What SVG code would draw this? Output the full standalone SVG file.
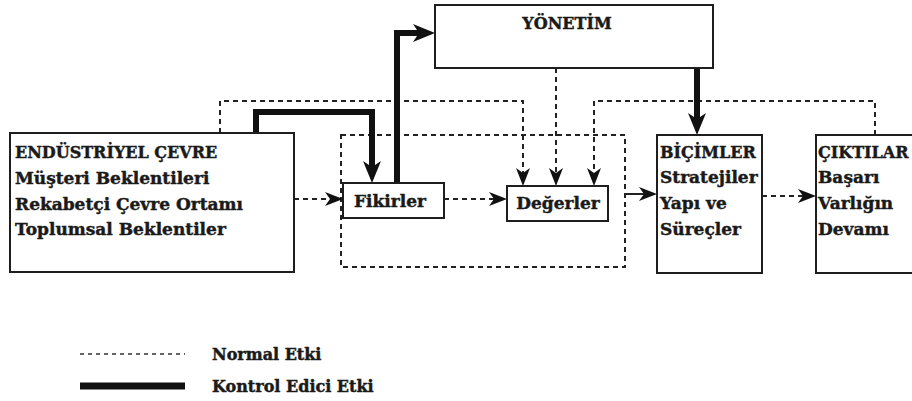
<svg xmlns="http://www.w3.org/2000/svg" width="912" height="401" viewBox="0 0 912 401">
  <style>
    .box { fill: #ffffff; stroke: #1e1e1e; stroke-width: 2; }
    .lbl { font-family: "DejaVu Serif", "Liberation Serif", serif; font-weight: bold; font-size: 16px; fill: #1a1a1a; stroke: #1a1a1a; stroke-width: 0.45; }
    .big { font-size: 17px; }
    .dash { fill: none; stroke: #222; stroke-width: 2; stroke-dasharray: 5 4; }
    .solid { fill: none; stroke: #222; stroke-width: 2; }
    .thick { fill: none; stroke: #111; stroke-width: 6; stroke-linejoin: miter; }
  </style>
  <defs>
    <marker id="arrThick" markerUnits="userSpaceOnUse" markerWidth="22" markerHeight="18" refX="9" refY="9" orient="auto">
      <path d="M0,0 L22,9 L0,18 L6,9 Z" fill="#111"/>
    </marker>
    <marker id="arrThin" markerUnits="userSpaceOnUse" markerWidth="18" markerHeight="14" refX="12" refY="7" orient="auto">
      <path d="M0,0 L18,7 L0,14 L5,7 Z" fill="#111"/>
    </marker>
  </defs>
  <rect width="912" height="401" fill="#ffffff"/>

  <g id="group-frame">
    <rect x="341" y="135" width="284" height="132" class="dash" fill="none"/>
  </g>

  <g id="connectors">
    <path class="dash" d="M220,133 V101 H523 V180" marker-end="url(#arrThin)"/>
    <path class="dash" d="M875,135 V101 H594 V180" marker-end="url(#arrThin)"/>
    <path class="dash" d="M556,68 V180" marker-end="url(#arrThin)"/>
    <path class="dash" d="M294,199 H337" marker-end="url(#arrThin)"/>
    <path class="dash" d="M444,199 H501" marker-end="url(#arrThin)"/>
    <path class="solid" d="M625,194 H651" marker-end="url(#arrThin)"/>
    <path class="dash" d="M762,196 H810" marker-end="url(#arrThin)"/>
    <path class="thick" d="M256,133 V112 H372 V170" marker-end="url(#arrThick)"/>
    <path class="thick" d="M397,183 V33 H422" marker-end="url(#arrThick)"/>
    <path class="thick" d="M697,68 V122" marker-end="url(#arrThick)"/>
  </g>

  <g id="node-endustriyel">
    <rect x="10" y="133" width="284" height="139" class="box"/>
    <text class="lbl" x="15" y="158">ENDÜSTRİYEL ÇEVRE</text>
    <text class="lbl big" x="15" y="184">Müşteri Beklentileri</text>
    <text class="lbl big" x="15" y="210">Rekabetçi Çevre Ortamı</text>
    <text class="lbl big" x="15" y="235">Toplumsal Beklentiler</text>
  </g>

  <g id="node-yonetim">
    <rect x="435" y="5" width="278" height="63" class="box"/>
    <text class="lbl" x="567" y="29" text-anchor="middle">YÖNETİM</text>
  </g>

  <g id="node-fikirler">
    <rect x="343" y="183" width="101" height="35" class="box"/>
    <text class="lbl big" x="390" y="207" text-anchor="middle">Fikirler</text>
  </g>

  <g id="node-degerler">
    <rect x="507" y="186" width="101" height="35" class="box"/>
    <text class="lbl big" x="558" y="209" text-anchor="middle">Değerler</text>
  </g>

  <g id="node-bicimler">
    <rect x="657" y="135" width="105" height="138" class="box"/>
    <text class="lbl" x="660" y="158">BİÇİMLER</text>
    <text class="lbl big" x="660" y="183">Stratejiler</text>
    <text class="lbl big" x="660" y="209">Yapı ve</text>
    <text class="lbl big" x="660" y="235">Süreçler</text>
  </g>

  <g id="node-ciktilar">
    <rect x="816" y="135" width="110" height="138" class="box"/>
    <text class="lbl" x="818" y="158">ÇIKTILAR</text>
    <text class="lbl big" x="818" y="183">Başarı</text>
    <text class="lbl big" x="818" y="209">Varlığın</text>
    <text class="lbl big" x="818" y="235">Devamı</text>
  </g>

  <g id="legend">
    <line x1="80" y1="354" x2="185" y2="354" stroke="#333" stroke-width="1.5" stroke-dasharray="4 4"/>
    <text class="lbl" x="212" y="360">Normal Etki</text>
    <line x1="80" y1="386" x2="185" y2="386" stroke="#111" stroke-width="7"/>
    <text class="lbl" x="212" y="392">Kontrol Edici Etki</text>
  </g>
</svg>
